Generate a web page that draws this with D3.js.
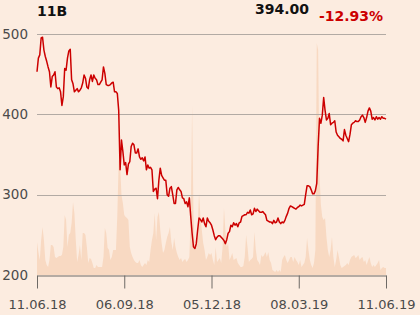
<!DOCTYPE html>
<html>
<head>
<meta charset="utf-8">
<script src="https://cdn.jsdelivr.net/npm/d3@7"></script>
<style>
  html, body { margin: 0; padding: 0; background: #fcece0; }
  svg { display: block; font-family: "DejaVu Sans", sans-serif; }
</style>
</head>
<body>
<script>
// daily closes, 11.06.18 .. 11.06.19 (one per trading day)
const closes = [
  453,470,474,495,496,480,472,466,459,453, 434,447,449,453,434,432,433,428,411,422,
  457,455,470,479,481,443,438,428,430,432, 428,430,433,439,449,445,434,432,443,449,
  441,449,445,443,437,437,440,443,459,451, 437,436,436,437,439,440,428,428,426,
  405,331,368,354,337,340,325,338,341,360, 364,362,352,352,357,347,344,346,342,347,
  331,337,333,334,331,304,307,308,295,318, 333,324,321,318,318,300,298,308,310,300,
  289,289,306,309,306,304,296,295,289,291, 285,296,273,252,235,233,239,256,271,269,
  266,271,264,260,
  271,267,265,262,256,249,244,247,249,249, 247,245,243,239,244,252,254,262,260,265,
  262,264,260,265,266,273,274,275,275,278, 277,281,275,276,283,279,282,280,278,278,
  279,277,275,268,267,266,266,264,268,265, 266,271,266,264,266,265,268,273,277,
  283,286,285,284,283,282,284,285,287,286,287,
  288,300,311,311,310,306,301,301,305,314, 360,395,389,399,421,405,393,395,401,387,
  389,390,392,378,374,372,370,369,367,381, 374,370,366,375,387,389,390,392,391,391,
  393,397,399,396,390,396,404,408,404,394, 396,393,397,394,396,394,397,395,395,394
];

// traded volume, same days (thousands, rough)
const volumes = [
  33,23,15,35,48,35,15,10,8,15, 30,30,28,18,17,18,19,19,20,28,
  60,55,28,40,42,52,73,62,35,13, 20,30,15,42,42,40,28,12,17,16,
  12,7,7,10,8,8,8,8,18,47, 42,27,25,15,18,25,25,25,60,115,
  110,80,72,60,58,57,55,28,22,18, 15,13,12,12,15,10,8,10,12,10,
  15,13,25,35,42,62,35,58,63,45, 32,22,25,32,38,42,48,33,25,37,
  28,22,18,15,17,13,15,16,13,15, 18,58,170,60,25,35,48,82,58,45,
  32,25,15,18,22,20,22,15,10,28, 13,15,17,12,28,67,45,28,32,15,
  18,22,15,16,17,12,10,8,8,9, 18,40,28,13,15,16,18,43,25,15,
  13,10,20,18,20,23,18,23,15,12, 5,4,3,5,3,5,3,15,18,20,
  15,12,15,18,18,13,18,15,13,10, 15,8,10,12,18,37,25,15,10,7,
  12,25,232,225,100,70,58,55,57,38, 25,18,25,38,18,8,15,25,18,10,
  7,8,9,10,12,10,15,18,19,20, 17,18,20,15,17,18,13,15,10,14,
  18,12,8,10,8,10,12,15,5,7, 8,7,7
];

const tickDays = [0, 63, 126, 189, 252];
const tickLabels = ["11.06.18", "06.09.18", "05.12.18", "08.03.19", "11.06.19"];
const priceTicks = [200, 300, 400, 500];

const title = "11B";
const lastPrice = "394.00";
const change = "-12.93%";

const W = 420, H = 315;
const margin = {top: 34, right: 34, bottom: 40, left: 37};

const svg = d3.select("body").append("svg")
    .attr("width", W)
    .attr("height", H);

svg.append("rect")
    .attr("width", W)
    .attr("height", H)
    .attr("fill", "#fcece0");

var x = d3.scaleLinear()
    .domain([0, closes.length - 1])
    .range([margin.left, W - margin.right]);

var y = d3.scaleLinear()
    .domain([200, 500])
    .range([H - margin.bottom, margin.top]);

var yVol = d3.scaleLinear()
    .domain([0, 240])
    .range([H - margin.bottom, margin.top + 1]);

// volume underneath
var area = d3.area()
    .x(function(d, i) { return x(i); })
    .y0(yVol(0))
    .y1(function(d) { return yVol(d); });

svg.append("path")
    .datum(volumes)
    .attr("fill", "#f8d9c2")
    .attr("d", area);

// gridlines
svg.append("g")
    .selectAll("line")
    .data(priceTicks.slice(1))
    .enter().append("line")
    .attr("x1", x(0))
    .attr("x2", x(closes.length - 1))
    .attr("y1", function(d) { return Math.round(y(d)) + 0.5; })
    .attr("y2", function(d) { return Math.round(y(d)) + 0.5; })
    .attr("stroke", "#b2aaa4")
    .attr("stroke-width", 1);

// y labels
var yAxis = svg.append("g")
    .attr("transform", "translate(" + margin.left + ",0)")
    .call(d3.axisLeft(y).tickValues(priceTicks).tickSize(0).tickPadding(9));
yAxis.select(".domain").remove();
yAxis.selectAll("text")
    .attr("fill", "#4a4a4a")
    .style("font-size", "13.5px")
    .style("font-family", "DejaVu Sans, sans-serif");

// x axis
var xAxis = svg.append("g")
    .attr("transform", "translate(0," + (Math.round(y(200)) + 0.5) + ")")
    .call(d3.axisBottom(x)
        .tickValues(tickDays)
        .tickFormat(function(d, i) { return tickLabels[i]; })
        .tickSize(13)
        .tickSizeOuter(0)
        .tickPadding(11));
xAxis.select(".domain").attr("stroke", "#6e6a66");
xAxis.selectAll(".tick line").attr("stroke", "#6e6a66");
xAxis.selectAll("text")
    .attr("fill", "#4a4a4a")
    .style("font-size", "13px")
    .style("font-family", "DejaVu Sans, sans-serif");

// price line
var line = d3.line()
    .x(function(d, i) { return x(i); })
    .y(function(d) { return y(d); });

svg.append("path")
    .datum(closes)
    .attr("fill", "none")
    .attr("stroke", "#cc0000")
    .attr("stroke-width", 1.5)
    .attr("stroke-linejoin", "round")
    .attr("d", line);

// header
svg.append("text")
    .attr("x", 37)
    .attr("y", 16)
    .attr("font-weight", "bold")
    .attr("font-size", 14)
    .attr("fill", "#111")
    .text(title);

svg.append("text")
    .attr("x", 309)
    .attr("y", 14)
    .attr("text-anchor", "end")
    .attr("font-weight", "bold")
    .attr("font-size", 14)
    .attr("fill", "#111")
    .text(lastPrice);

svg.append("text")
    .attr("x", 383)
    .attr("y", 21)
    .attr("text-anchor", "end")
    .attr("font-weight", "bold")
    .attr("font-size", 14)
    .attr("fill", "#cc0000")
    .text(change);
</script>
</body>
</html>
